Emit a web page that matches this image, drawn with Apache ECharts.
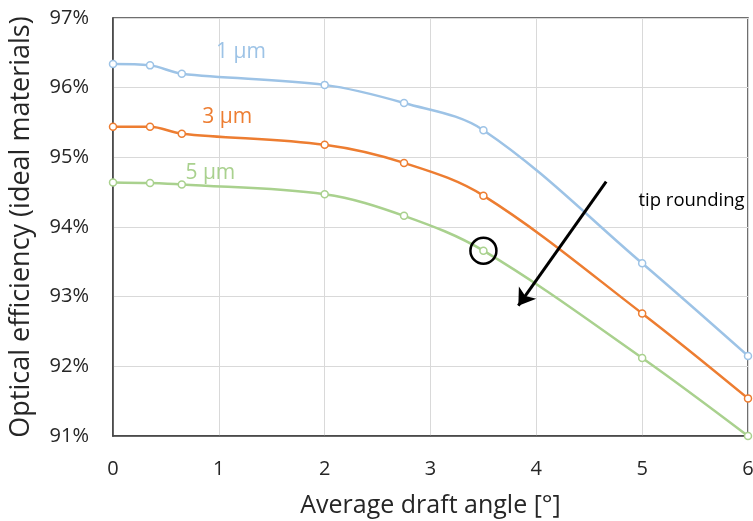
<!DOCTYPE html>
<html><head><meta charset="utf-8">
<script src="https://cdn.jsdelivr.net/npm/echarts@6/dist/echarts.min.js"></script>
<style>html,body{margin:0;padding:0;background:#fff}#c{width:753px;height:521px}</style>
</head><body><div id="c"></div>
<script>
const xAngles = [0, 0.35, 0.65, 2, 2.75, 3.5, 5, 6];
const eff1um = [96.34, 96.32, 96.20, 96.04, 95.78, 95.39, 93.48, 92.15];
const eff3um = [95.44, 95.44, 95.34, 95.18, 94.92, 94.45, 92.76, 91.54];
const eff5um = [94.64, 94.63, 94.61, 94.47, 94.16, 93.66, 92.12, 91.0];
const seriesNames = ['1 µm', '3 µm', '5 µm'];
const seriesColors = ['#9DC3E6', '#ED7D31', '#A9D18E'];
const labelPos = [[1.21, 96.51], [1.08, 95.58], [0.92, 94.78]];
const arrowFromTo = [[4.66, 94.65], [3.83, 92.87]];
const circledPoint = [3.5, 93.66];
const tipText = [4.96, 94.37];

const FONT = 'Open Sans';
const data = [eff1um, eff3um, eff5um];
const series = data.map((vals, i) => ({
  type: 'line',
  name: seriesNames[i],
  data: xAngles.map((x, j) => [x, vals[j]]),
  smooth: 0.35,
  symbol: 'circle',
  symbolSize: 7,
  showSymbol: true,
  clip: false,
  lineStyle: {color: seriesColors[i], width: 2.5},
  itemStyle: {color: '#fff', borderColor: seriesColors[i], borderWidth: 1.5},
  z: 3,
  markPoint: {
    symbol: 'circle', symbolSize: 1,
    itemStyle: {color: 'transparent'},
    label: {show: true, formatter: seriesNames[i], color: seriesColors[i], fontSize: 21, fontFamily: FONT, position: 'inside'},
    data: [{coord: labelPos[i]}]
  }
}));
series.push({
  type: 'line', data: [],
  markLine: {
    silent: true,
    symbol: ['none', 'arrow'], symbolSize: 16,
    lineStyle: {color: '#000', width: 3, type: 'solid'},
    itemStyle: {color: '#000'},
    label: {show: false},
    data: [[{coord: arrowFromTo[0]}, {coord: arrowFromTo[1]}]]
  },
  markPoint: {
    silent: true,
    data: [
      {coord: circledPoint, symbol: 'circle', symbolSize: 26, itemStyle: {color: 'transparent', borderColor: '#000', borderWidth: 2.5}, label: {show: false}},
      {coord: tipText, symbol: 'circle', symbolSize: 1, itemStyle: {color: 'transparent'},
       label: {show: true, position: 'right', distance: 0, formatter: 'tip rounding', color: '#000', fontSize: 18.5, fontFamily: FONT}}
    ]
  }
});

const chart = echarts.init(document.getElementById('c'));
chart.setOption({
  animation: false,
  grid: {left: 113, right: 5, top: 18, bottom: 85, outerBoundsMode: 'none', containLabel: false, show: true, borderColor: '#404040', borderWidth: 1.5},
  xAxis: {
    type: 'value', min: 0, max: 6, interval: 1,
    name: 'Average draft angle [°]', nameLocation: 'middle', nameGap: 57,
    nameTextStyle: {fontSize: 25, fontFamily: FONT, color: '#262626'},
    axisLine: {show: true, lineStyle: {color: '#404040', width: 1.5}},
    axisTick: {show: false},
    axisLabel: {fontSize: 20, fontFamily: FONT, color: '#262626', margin: 23},
    splitLine: {show: true, lineStyle: {color: '#D9D9D9', width: 1}}
  },
  yAxis: {
    type: 'value', min: 91, max: 97, interval: 1,
    name: 'Optical efficiency (ideal materials)', nameLocation: 'middle', nameGap: 78,
    nameTextStyle: {fontSize: 27, fontFamily: FONT, color: '#262626'},
    axisLine: {show: true, lineStyle: {color: '#404040', width: 1.5}},
    axisTick: {show: false},
    axisLabel: {fontSize: 20, fontFamily: FONT, color: '#262626', margin: 24, formatter: v => v + '%'},
    splitLine: {show: true, lineStyle: {color: '#D9D9D9', width: 1}}
  },
  series: series
});
</script></body></html>
